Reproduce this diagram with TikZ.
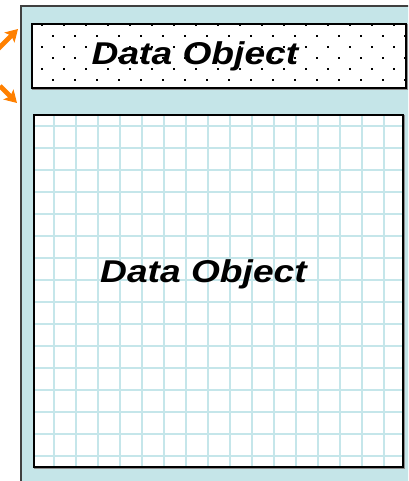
\documentclass[tikz,border=0pt]{standalone}
\usepackage{fontspec}
\setmainfont{Liberation Sans}
\usetikzlibrary{arrows.meta}

\definecolor{paneltint}{RGB}{197,229,232}
\definecolor{gridtint}{RGB}{197,230,234}
\definecolor{feedorange}{RGB}{255,128,0}

\tikzset{
	panel/.style={fill=paneltint, draw=black!75, line width=1.8pt},
	boxframe/.style={draw=black, line width=1.8pt},
	boxshade/.style={draw=black!45, line width=1.8pt},
	gridline/.style={draw=gridtint, line width=2.8pt},
	feed/.style={draw=feedorange, line width=4.6pt,
		-{Stealth[length=12pt,width=14pt,inset=2.5pt]}},
	caption/.style={font=\bfseries\itshape\fontsize{31.5}{31.5}\selectfont,
		inner sep=0pt, anchor=base}
}

\begin{document}
\begin{tikzpicture}[
	x=1pt, y=-1pt,
	line cap=butt,
	line join=miter
	]
	\useasboundingbox (0,0) rectangle (408,481);
	\clip (0,0) rectangle (408,481);
	
	% Khung ngoai
	\coordinate (P1) at (21,6);
	\coordinate (P2) at (440,520);
	\draw[panel] (P1) rectangle (P2);
	
	% Hop tren
	\draw[boxshade] (33,25) rectangle (407,89);
	\node[fill=white, minimum width=374pt, minimum height=64pt, inner sep=0pt]
	(head) at (219,56) {};
	
	% Cac cham
	\begin{scope}
		\clip (head.north west) rectangle (head.south east);
		\foreach \j in {0,...,6}
		\foreach \k in {0,...,18}
		{
			\pgfmathsetmacro{\dx}{42+22*\k+11*mod(\j,2)}
			\pgfmathsetmacro{\dy}{25+11*\j}
			\fill (\dx-1.1,\dy-1.1) rectangle (\dx+1.1,\dy+1.1);
		}
	\end{scope}
	\draw[boxframe] (head.north west) rectangle (head.south east);
	
	% Hop luoi
	\draw[boxshade] (35,116) rectangle (404,468);
	\node[fill=white, minimum width=369pt, minimum height=352pt, inner sep=0pt]
	(grid) at (218.5,291) {};
	
	\begin{scope}
		\clip (grid.north west) rectangle (grid.south east);
		\foreach \k in {0,...,15}
		{
			\draw[gridline] (54+22*\k,110) -- (54+22*\k,470);
			\draw[gridline] (30,126+22*\k) -- (410,126+22*\k);
		}
	\end{scope}
	\draw[boxframe] (grid.north west) rectangle (grid.south east);
	
	% Nhan
	\node[caption] (headtext) at (195,65) {\scalebox{1.18}[1]{Data Object}};
	\node[caption] (gridtext) at (203.5,282) {\scalebox{1.18}[1]{Data Object}};
	
	% Mui ten
	\coordinate (src1) at (-4,51);
	\coordinate (tip1) at (18,29);
	\coordinate (src2) at (0,86);
	\coordinate (tip2) at (17,103);
	\draw[feed] (src1) -- (tip1);
	\draw[feed] (src2) -- (tip2);
	
\end{tikzpicture}
\end{document}
